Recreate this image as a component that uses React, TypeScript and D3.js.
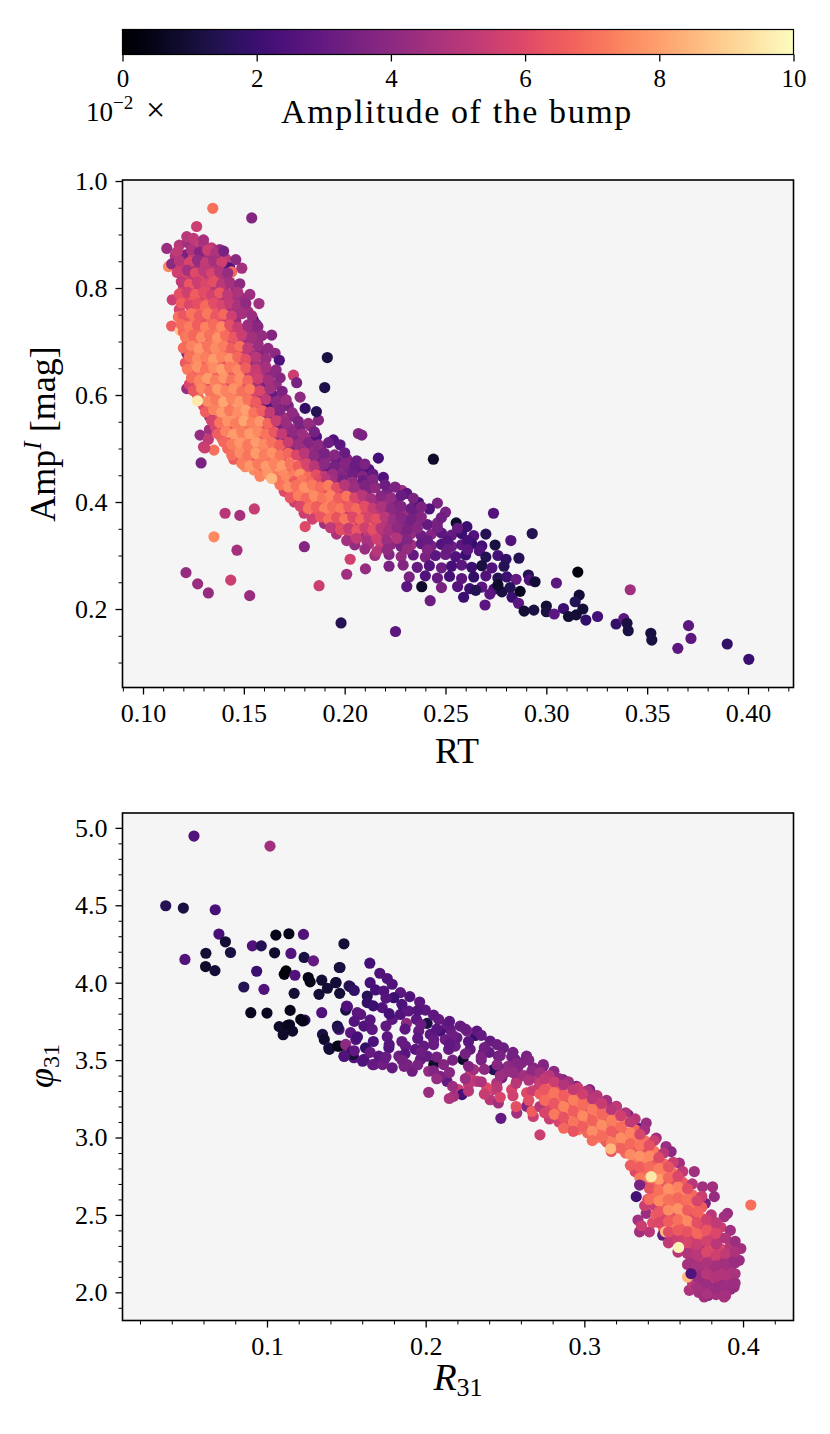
import * as d3 from "d3";
import { useEffect, useRef } from "react";

// [x, y, bump amplitude in units of 1e-2]
type Pt = [number, number, number];

const FONT = "'Liberation Serif', 'DejaVu Serif', serif";

// ---------- colorbar ----------
const cbTicks = [0, 2, 4, 6, 8, 10];

// ---------- top panel: RT vs Amp^I ----------
const topHead: Pt[] = [
  [0.118, 0.88, 5], [0.122, 0.885, 4.5], [0.126, 0.878, 5.5], [0.13, 0.882, 4.8], [0.134, 0.875, 5.2], [0.138, 0.872, 4.2],
  [0.1118, 0.874, 4.3], [0.1217, 0.896, 5], [0.1266, 0.915, 5.5], [0.1346, 0.949, 7], [0.1539, 0.931, 3.8], [0.125, 0.893, 5.2], [0.13, 0.89, 4.6],
  [0.116, 0.86, 4.8], [0.121, 0.862, 3.5], [0.125, 0.858, 5.5], [0.129, 0.861, 5], [0.133, 0.857, 4.5], [0.137, 0.86, 4], [0.141, 0.855, 5.2], [0.1365, 0.845, 2.5],
  [0.1126, 0.84, 7.5], [0.1142, 0.845, 4], [0.119, 0.84, 5.5], [0.123, 0.842, 5], [0.127, 0.838, 4.5], [0.131, 0.84, 5.8], [0.135, 0.836, 5], [0.139, 0.84, 4.5], [0.143, 0.838, 2.5], [0.144, 0.83, 6.8], [0.149, 0.837, 4.5],
  [0.121, 0.82, 5.8], [0.125, 0.822, 5.2], [0.129, 0.818, 6], [0.133, 0.821, 5], [0.137, 0.818, 5.5], [0.141, 0.82, 4.8], [0.1455, 0.801, 4.5],
  [0.12, 0.8, 5.5], [0.124, 0.802, 6], [0.128, 0.798, 5.5], [0.132, 0.801, 6.2], [0.136, 0.797, 5], [0.14, 0.8, 4.5], [0.146, 0.79, 4.2],
  [0.1145, 0.778, 5.5], [0.121, 0.78, 6], [0.125, 0.782, 6.5], [0.129, 0.778, 5.8], [0.133, 0.781, 6.3], [0.137, 0.777, 5.5], [0.141, 0.78, 4.8], [0.145, 0.776, 4.5], [0.15, 0.78, 4.3], [0.1575, 0.771, 4.5],
  [0.118, 0.76, 5.8], [0.124, 0.762, 6.3], [0.128, 0.758, 6.8], [0.132, 0.761, 6], [0.136, 0.757, 6.5], [0.14, 0.76, 5.5], [0.144, 0.758, 4.6], [0.148, 0.762, 4.2], [0.152, 0.756, 4.5],
  [0.1175, 0.746, 7], [0.1142, 0.729, 6.5], [0.122, 0.74, 6.5], [0.126, 0.742, 7], [0.13, 0.738, 6.2], [0.134, 0.741, 6.8], [0.138, 0.737, 6], [0.142, 0.74, 5.5], [0.146, 0.738, 4.3], [0.1547, 0.74, 1.5], [0.156, 0.733, 3.5],
  [0.1184, 0.721, 8.8], [0.12, 0.718, 6.8], [0.125, 0.722, 6.2], [0.129, 0.718, 7], [0.133, 0.721, 6.5], [0.137, 0.717, 7.2], [0.141, 0.72, 6.3], [0.145, 0.718, 5.8], [0.15, 0.722, 4.5], [0.155, 0.716, 4.2], [0.1638, 0.712, 3.8],
  [0.122, 0.7, 6.5], [0.127, 0.702, 7], [0.131, 0.698, 6.3], [0.135, 0.701, 7.3], [0.139, 0.697, 6.8], [0.143, 0.7, 6], [0.147, 0.698, 5.2], [0.152, 0.702, 4.5], [0.157, 0.696, 3.8],
];

// in-between points of the dense upper cloud
const topHeadFill: Pt[] = [
  [0.117, 0.868, 5.2], [0.124, 0.872, 4.8], [0.128, 0.867, 3.8], [0.132, 0.871, 5.5], [0.136, 0.866, 4.8], [0.14, 0.869, 3.5],
  [0.118, 0.851, 5], [0.123, 0.848, 5.8], [0.127, 0.852, 4.2], [0.131, 0.847, 5.3], [0.135, 0.851, 4.6], [0.139, 0.848, 5.6], [0.146, 0.853, 4],
  [0.117, 0.829, 5.6], [0.122, 0.833, 4.6], [0.126, 0.828, 6], [0.13, 0.832, 5.2], [0.134, 0.827, 5.8], [0.138, 0.831, 4.9], [0.142, 0.828, 4.2],
  [0.119, 0.812, 5.2], [0.123, 0.807, 6.4], [0.127, 0.811, 5.5], [0.131, 0.808, 5.9], [0.135, 0.812, 6.2], [0.139, 0.807, 5.1], [0.143, 0.811, 4.6], [0.148, 0.808, 4],
  [0.118, 0.789, 6.2], [0.122, 0.792, 5.6], [0.126, 0.788, 6.6], [0.13, 0.792, 6.1], [0.134, 0.787, 5.7], [0.138, 0.791, 6.4], [0.142, 0.788, 5.2], [0.147, 0.792, 4.8], [0.153, 0.788, 4.4],
  [0.119, 0.772, 6.6], [0.123, 0.768, 5.9], [0.127, 0.771, 6.2], [0.131, 0.767, 6.9], [0.135, 0.772, 6.1], [0.139, 0.768, 5.8], [0.143, 0.771, 5.3], [0.147, 0.767, 4.7], [0.151, 0.771, 4.1],
  [0.12, 0.749, 6.4], [0.124, 0.752, 7.1], [0.128, 0.748, 6.5], [0.132, 0.752, 7.2], [0.136, 0.747, 6.4], [0.14, 0.751, 6.8], [0.144, 0.748, 5.6], [0.149, 0.752, 4.6], [0.154, 0.748, 4.3],
  [0.119, 0.732, 6.9], [0.123, 0.728, 7.3], [0.127, 0.731, 6.6], [0.131, 0.727, 7.4], [0.135, 0.732, 6.9], [0.139, 0.728, 7.5], [0.143, 0.731, 6.2], [0.147, 0.727, 5.4], [0.152, 0.731, 4.4], [0.157, 0.728, 3.9],
  [0.121, 0.709, 7.2], [0.125, 0.712, 6.8], [0.129, 0.708, 7.6], [0.133, 0.712, 7], [0.137, 0.707, 7.7], [0.141, 0.711, 6.9], [0.145, 0.708, 6.4], [0.149, 0.712, 5.5], [0.154, 0.708, 4.6], [0.159, 0.711, 4.2],
];

const topBody: Pt[] = [
  [0.1217, 0.678, 4], [0.124, 0.68, 6.8], [0.128, 0.682, 7.5], [0.132, 0.678, 6.8], [0.136, 0.681, 7.2], [0.14, 0.677, 6.5], [0.144, 0.68, 7], [0.148, 0.682, 5.5], [0.153, 0.678, 4.5], [0.158, 0.68, 3.8], [0.1655, 0.678, 4],
  [0.121, 0.66, 6.5], [0.126, 0.662, 7.2], [0.13, 0.658, 6.7], [0.134, 0.661, 7.5], [0.138, 0.657, 7], [0.142, 0.66, 6.3], [0.146, 0.662, 7.2], [0.15, 0.658, 5.8], [0.155, 0.661, 4.5], [0.16, 0.657, 4.5], [0.1676, 0.665, 2.5],
  [0.125, 0.64, 6.5], [0.129, 0.642, 7], [0.133, 0.638, 7.8], [0.137, 0.641, 6.8], [0.141, 0.637, 7.5], [0.145, 0.64, 6.5], [0.149, 0.642, 7], [0.153, 0.638, 5.5], [0.158, 0.641, 4.8], [0.163, 0.637, 4], [0.1746, 0.637, 5.5],
  [0.1217, 0.612, 4.3], [0.123, 0.62, 5.8], [0.128, 0.622, 7.2], [0.132, 0.618, 6.5], [0.136, 0.621, 7.6], [0.14, 0.617, 7], [0.144, 0.62, 6.2], [0.148, 0.622, 7.5], [0.152, 0.618, 6], [0.156, 0.621, 4.5], [0.161, 0.617, 3.5], [0.166, 0.62, 4.2], [0.1762, 0.623, 3.5],
  [0.127, 0.6, 6.5], [0.135, 0.602, 7.2], [0.139, 0.598, 7.8], [0.143, 0.601, 6.8], [0.147, 0.597, 7.3], [0.151, 0.6, 6.5], [0.155, 0.602, 5.8], [0.159, 0.598, 4.5], [0.164, 0.601, 3], [0.169, 0.597, 4], [0.1779, 0.596, 4],
  [0.13, 0.58, 6], [0.134, 0.582, 7], [0.138, 0.578, 7.5], [0.142, 0.581, 6.5], [0.146, 0.577, 8], [0.15, 0.58, 7], [0.154, 0.582, 6.2], [0.158, 0.578, 5], [0.162, 0.581, 2.5], [0.167, 0.577, 4], [0.172, 0.58, 3.5], [0.1804, 0.575, 1.8],
  [0.133, 0.56, 4.2], [0.137, 0.562, 6.5], [0.141, 0.558, 7.2], [0.145, 0.561, 7.8], [0.149, 0.557, 6.8], [0.153, 0.56, 7.5], [0.157, 0.562, 6], [0.161, 0.558, 5], [0.165, 0.561, 3], [0.17, 0.557, 4.5], [0.175, 0.56, 3.8], [0.187, 0.553, 3.8],
  [0.1329, 0.535, 4.5], [0.136, 0.54, 6], [0.14, 0.542, 7], [0.144, 0.538, 6.5], [0.148, 0.541, 7.8], [0.152, 0.537, 7], [0.156, 0.54, 7.5], [0.16, 0.542, 6.2], [0.164, 0.538, 5], [0.168, 0.541, 3.5], [0.173, 0.537, 4.2], [0.178, 0.54, 3.5], [0.183, 0.542, 4],
  [0.1283, 0.525, 4.2], [0.139, 0.52, 6.5], [0.1432, 0.512, 6.5], [0.147, 0.518, 6.6], [0.151, 0.521, 7.6], [0.155, 0.517, 7], [0.159, 0.52, 6.5], [0.163, 0.522, 5.8], [0.167, 0.518, 4.5], [0.171, 0.521, 3], [0.176, 0.517, 3.8], [0.181, 0.52, 4.5], [0.186, 0.522, 2.5], [0.1944, 0.516, 2.5], [0.2068, 0.528, 3.8], [0.2085, 0.525, 3.6],
  [0.13, 0.503, 5.2], [0.1352, 0.497, 7], [0.142, 0.5, 6.8], [0.146, 0.502, 7.5], [0.15, 0.498, 6.8], [0.154, 0.501, 7.6], [0.158, 0.497, 7.2], [0.162, 0.5, 7], [0.166, 0.502, 6], [0.17, 0.498, 5.2], [0.174, 0.501, 4], [0.178, 0.497, 3.5], [0.183, 0.5, 4.2], [0.188, 0.502, 3.5], [0.1977, 0.507, 2.8],
  [0.1324, 0.517, 5.3], [0.1306, 0.501, 5.5], [0.1332, 0.566, 4], [0.1366, 0.53, 5.5], [0.1435, 0.511, 6.5],
  [0.145, 0.48, 6.5], [0.15, 0.482, 7.2], [0.154, 0.478, 6.5], [0.158, 0.481, 7.8], [0.162, 0.477, 7], [0.166, 0.48, 7.5], [0.17, 0.482, 6.5], [0.178, 0.481, 5.5], [0.182, 0.477, 4.5], [0.186, 0.48, 3.5], [0.191, 0.482, 4], [0.196, 0.478, 3], [0.201, 0.481, 3.8], [0.206, 0.477, 3.2], [0.2167, 0.482, 2.2],
  [0.155, 0.46, 7.5], [0.16, 0.462, 6.8], [0.164, 0.458, 7.3], [0.168, 0.461, 7.8], [0.172, 0.457, 6.8], [0.176, 0.46, 7.2], [0.18, 0.462, 6], [0.184, 0.458, 5.5], [0.188, 0.461, 4.2], [0.192, 0.457, 3], [0.197, 0.46, 4], [0.202, 0.462, 3.5], [0.207, 0.458, 3], [0.212, 0.461, 2.5],
  [0.1507, 0.466, 7.5], [0.174, 0.478, 8.8],
];

const topBodyFill: Pt[] = [
  [0.12, 0.688, 6.9], [0.124, 0.692, 7.4], [0.128, 0.687, 7.8], [0.132, 0.691, 7.1], [0.136, 0.688, 7.6], [0.14, 0.692, 7.3], [0.144, 0.687, 6.6], [0.148, 0.691, 7], [0.152, 0.688, 5.3], [0.157, 0.692, 4.4], [0.162, 0.687, 4.1],
  [0.123, 0.672, 7], [0.127, 0.668, 7.6], [0.131, 0.671, 7.3], [0.135, 0.667, 7.9], [0.139, 0.672, 7.4], [0.143, 0.668, 7.7], [0.147, 0.671, 6.8], [0.151, 0.667, 6.2], [0.156, 0.671, 5], [0.161, 0.668, 4.3],
  [0.122, 0.648, 7.2], [0.127, 0.652, 7.7], [0.131, 0.647, 7.1], [0.135, 0.651, 7.6], [0.139, 0.648, 8], [0.143, 0.652, 7.2], [0.147, 0.647, 7.5], [0.151, 0.651, 6.6], [0.156, 0.648, 5.4], [0.161, 0.652, 4.6], [0.166, 0.647, 4],
  [0.124, 0.632, 6.9], [0.128, 0.628, 7.4], [0.132, 0.631, 7.9], [0.136, 0.627, 7.3], [0.14, 0.632, 7.8], [0.144, 0.628, 7.1], [0.148, 0.631, 7.6], [0.152, 0.627, 6.8], [0.157, 0.631, 5.6], [0.162, 0.628, 4.6], [0.168, 0.632, 3.9],
  [0.125, 0.608, 6.4], [0.129, 0.612, 7.5], [0.133, 0.607, 7.1], [0.137, 0.611, 7.9], [0.141, 0.608, 7.4], [0.145, 0.612, 7.7], [0.149, 0.607, 7], [0.153, 0.611, 7.3], [0.158, 0.608, 5.9], [0.163, 0.612, 4.5], [0.169, 0.607, 3.6],
  [0.128, 0.592, 7.1], [0.132, 0.588, 7.6], [0.136, 0.591, 7.2], [0.14, 0.587, 8.1], [0.144, 0.592, 7.4], [0.148, 0.588, 7.8], [0.152, 0.591, 7.1], [0.156, 0.587, 6.5], [0.161, 0.592, 5.2], [0.166, 0.588, 4], [0.171, 0.591, 4.4],
  [0.131, 0.568, 6.6], [0.135, 0.572, 7.4], [0.139, 0.567, 7.9], [0.143, 0.571, 7.2], [0.147, 0.568, 7.6], [0.151, 0.572, 8], [0.155, 0.567, 7.1], [0.159, 0.571, 6.6], [0.163, 0.568, 5.3], [0.168, 0.572, 3.8], [0.174, 0.567, 4.1],
  [0.134, 0.552, 5.8], [0.138, 0.548, 7.1], [0.142, 0.551, 7.7], [0.146, 0.547, 7.3], [0.15, 0.552, 8.1], [0.154, 0.548, 7.4], [0.158, 0.551, 7.8], [0.162, 0.547, 6.8], [0.166, 0.552, 5.5], [0.171, 0.548, 4.3], [0.177, 0.551, 3.6], [0.182, 0.547, 4.2],
  [0.137, 0.528, 6.6], [0.141, 0.532, 7.4], [0.145, 0.527, 7.9], [0.149, 0.531, 7.3], [0.153, 0.528, 7.9], [0.157, 0.532, 7.5], [0.161, 0.527, 7.1], [0.165, 0.531, 6.4], [0.169, 0.528, 5.3], [0.174, 0.532, 4.1], [0.179, 0.527, 4.4], [0.185, 0.531, 3.4],
  [0.14, 0.512, 6.8], [0.144, 0.508, 7.3], [0.148, 0.511, 7.8], [0.152, 0.507, 7.2], [0.156, 0.512, 7.9], [0.16, 0.508, 7.5], [0.164, 0.511, 7], [0.168, 0.507, 6.6], [0.172, 0.512, 5.4], [0.177, 0.508, 4.4], [0.182, 0.511, 3.8], [0.187, 0.507, 4], [0.192, 0.511, 3.2],
  [0.144, 0.488, 7], [0.148, 0.492, 7.6], [0.152, 0.487, 7.1], [0.156, 0.491, 7.9], [0.16, 0.488, 7.3], [0.164, 0.492, 7.7], [0.168, 0.487, 7.1], [0.172, 0.491, 6.8], [0.176, 0.488, 5.9], [0.18, 0.492, 5], [0.185, 0.487, 4], [0.19, 0.491, 3.5], [0.195, 0.488, 3.9], [0.2, 0.492, 3.1],
  [0.149, 0.472, 7.3], [0.153, 0.468, 7.8], [0.157, 0.471, 7.2], [0.161, 0.467, 7.9], [0.165, 0.472, 7.4], [0.169, 0.468, 7.9], [0.173, 0.471, 7.1], [0.177, 0.467, 6.6], [0.181, 0.472, 5.8], [0.185, 0.468, 5], [0.19, 0.471, 4], [0.195, 0.467, 3.4], [0.2, 0.472, 3.8], [0.205, 0.468, 3.1], [0.21, 0.471, 3.6],
  [0.158, 0.448, 7.4], [0.162, 0.452, 7.8], [0.166, 0.447, 7.2], [0.17, 0.451, 7.6], [0.174, 0.448, 7.3], [0.178, 0.452, 7.7], [0.182, 0.447, 6.9], [0.186, 0.451, 6.2], [0.19, 0.448, 5.3], [0.194, 0.452, 4.4], [0.199, 0.447, 3.8], [0.204, 0.451, 3.3], [0.209, 0.448, 3.8], [0.214, 0.452, 3],
];

const topTail: Pt[] = [
  [0.167, 0.44, 7], [0.171, 0.442, 7.5], [0.175, 0.438, 6.5], [0.179, 0.441, 7.2], [0.183, 0.437, 6.8], [0.187, 0.44, 6], [0.191, 0.442, 5], [0.195, 0.438, 4.5], [0.199, 0.441, 3.5], [0.204, 0.437, 4.2], [0.209, 0.44, 3.2], [0.214, 0.442, 3.8], [0.2192, 0.446, 2.5],
  [0.17, 0.42, 6], [0.175, 0.422, 7], [0.179, 0.418, 6.5], [0.183, 0.421, 7.5], [0.187, 0.417, 7], [0.191, 0.42, 6.2], [0.195, 0.422, 6.8], [0.199, 0.418, 5.5], [0.203, 0.421, 4.5], [0.207, 0.417, 5.2], [0.211, 0.42, 3.8], [0.2151, 0.427, 1], [0.221, 0.418, 3.5], [0.2283, 0.422, 4.5], [0.2308, 0.416, 2.8],
  [0.175, 0.4, 5.5], [0.18, 0.402, 6.8], [0.184, 0.398, 7.2], [0.188, 0.401, 6.5], [0.192, 0.397, 7.5], [0.196, 0.4, 6.8], [0.2, 0.402, 6.2], [0.204, 0.398, 7], [0.208, 0.401, 5.5], [0.212, 0.397, 5], [0.216, 0.4, 4.2], [0.22, 0.402, 4.5], [0.225, 0.398, 3.5], [0.2366, 0.399, 2.2], [0.246, 0.398, 3.5],
  [0.1799, 0.379, 5.5], [0.186, 0.38, 6.5], [0.19, 0.382, 6], [0.194, 0.378, 7], [0.198, 0.381, 6.5], [0.202, 0.377, 5.5], [0.206, 0.38, 6.8], [0.21, 0.382, 5.8], [0.214, 0.378, 6.5], [0.218, 0.381, 5], [0.222, 0.377, 4.3], [0.226, 0.38, 3.8], [0.23, 0.382, 4.5], [0.235, 0.378, 3.3], [0.242, 0.387, 2.5], [0.2738, 0.379, 2.5], [0.25, 0.381, 3.5],
  [0.1804, 0.354, 6], [0.19, 0.36, 4.5], [0.195, 0.362, 6], [0.2, 0.358, 5.5], [0.204, 0.361, 6.5], [0.208, 0.357, 5], [0.212, 0.36, 6.8], [0.216, 0.362, 5.5], [0.22, 0.358, 4.8], [0.224, 0.361, 4.5], [0.228, 0.357, 4], [0.232, 0.36, 3.5], [0.236, 0.362, 4], [0.241, 0.358, 3], [0.246, 0.361, 3.5], [0.2553, 0.361, 0.8], [0.2606, 0.354, 2],
  [0.196, 0.34, 4.8], [0.202, 0.342, 5.8], [0.207, 0.338, 4.5], [0.212, 0.341, 5.2], [0.216, 0.337, 6], [0.22, 0.34, 4.5], [0.225, 0.342, 5.5], [0.229, 0.338, 3.8], [0.233, 0.341, 4.2], [0.238, 0.337, 3.2], [0.243, 0.34, 3.8], [0.248, 0.342, 2.8], [0.253, 0.338, 3], [0.258, 0.341, 2], [0.264, 0.337, 2.5], [0.27, 0.34, 1.5], [0.293, 0.341, 1.5],
  [0.18, 0.3165, 3.8], [0.205, 0.32, 4.2], [0.212, 0.322, 4.8], [0.218, 0.318, 5.5], [0.223, 0.321, 4], [0.228, 0.317, 3.5], [0.233, 0.32, 4.5], [0.238, 0.322, 3], [0.243, 0.318, 3.5], [0.248, 0.321, 2.5], [0.253, 0.317, 3.2], [0.258, 0.32, 2.8], [0.263, 0.322, 1.8], [0.2746, 0.3196, 1.2], [0.2824, 0.328, 2.5], [0.268, 0.318, 2.2],
  [0.2027, 0.293, 5.6], [0.215, 0.3, 4.5], [0.222, 0.302, 3.8], [0.228, 0.298, 4.2], [0.234, 0.301, 3], [0.24, 0.297, 3.6], [0.245, 0.3, 2.8], [0.25, 0.302, 3.2], [0.255, 0.298, 2.5], [0.26, 0.301, 2], [0.2668, 0.309, 2.5], [0.27, 0.297, 1.5], [0.276, 0.3, 2.2], [0.28, 0.293, 1.8], [0.2864, 0.295, 1.5],
  [0.2103, 0.275, 4.2], [0.222, 0.28, 3.5], [0.229, 0.282, 3.8], [0.236, 0.278, 3], [0.242, 0.281, 2.5], [0.248, 0.277, 3.2], [0.253, 0.28, 2.2], [0.258, 0.282, 2.8], [0.263, 0.278, 2], [0.268, 0.281, 1.2], [0.273, 0.277, 2.5], [0.279, 0.28, 1.5], [0.2911, 0.2636, 1.5],
  [0.201, 0.265, 4.5], [0.232, 0.26, 3.5], [0.24, 0.262, 2.5], [0.246, 0.258, 3], [0.252, 0.261, 2.2], [0.258, 0.257, 2.8], [0.264, 0.26, 1.8], [0.27, 0.262, 2.5], [0.276, 0.258, 1.5], [0.2804, 0.26, 2], [0.285, 0.2555, 3], [0.2916, 0.254, 2.5], [0.2944, 0.251, 1],
  [0.2382, 0.2417, 0.8], [0.2308, 0.242, 2.8], [0.248, 0.24, 3.5], [0.256, 0.242, 2.6], [0.262, 0.238, 2], [0.268, 0.241, 2.8], [0.274, 0.237, 2.2], [0.278, 0.232, 1.2],
  [0.265, 0.235, 1.5], [0.272, 0.228, 2.8], [0.276, 0.245, 0.8], [0.282, 0.24, 1.5], [0.283, 0.222, 2], [0.287, 0.233, 0.6],
  [0.305, 0.2486, 2.8], [0.3156, 0.269, 0.3], [0.3163, 0.226, 1],
  [0.2424, 0.2155, 3.2], [0.259, 0.222, 2], [0.2696, 0.2075, 2.8], [0.2862, 0.2107, 2.8], [0.289, 0.196, 1], [0.2938, 0.198, 1.2], [0.3, 0.2056, 1], [0.3, 0.195, 1.2], [0.3039, 0.1907, 2.8], [0.3085, 0.201, 2], [0.311, 0.186, 1], [0.3148, 0.189, 1], [0.3143, 0.2136, 1.5], [0.3181, 0.2, 1], [0.3196, 0.1794, 1.8], [0.3254, 0.186, 2.2],
  [0.3346, 0.172, 1.8], [0.3384, 0.182, 2.8], [0.34, 0.1733, 1.2], [0.3406, 0.1594, 1.2], [0.3518, 0.1546, 1.2], [0.3523, 0.142, 1.2], [0.3705, 0.169, 2.8], [0.3717, 0.145, 2.8], [0.3652, 0.1265, 2.8], [0.3897, 0.1346, 1.8], [0.4004, 0.106, 2], [0.3416, 0.236, 4.5],
];

const topTailFill: Pt[] = [
  [0.168, 0.432, 7.1], [0.172, 0.428, 7.6], [0.176, 0.431, 7], [0.18, 0.427, 7.7], [0.184, 0.432, 7.2], [0.188, 0.428, 6.9], [0.192, 0.431, 7.3], [0.196, 0.427, 6.1], [0.2, 0.432, 5], [0.205, 0.428, 4.4], [0.21, 0.431, 3.6], [0.215, 0.427, 4.1], [0.22, 0.432, 3.2], [0.225, 0.428, 3.6],
  [0.173, 0.408, 6.4], [0.177, 0.412, 7.3], [0.181, 0.407, 6.8], [0.185, 0.411, 7.6], [0.189, 0.408, 7.1], [0.193, 0.412, 7.4], [0.197, 0.407, 6.6], [0.201, 0.411, 7.1], [0.205, 0.408, 5.9], [0.209, 0.412, 5.1], [0.213, 0.407, 4.6], [0.218, 0.411, 3.9], [0.223, 0.408, 4.2], [0.228, 0.412, 3.1], [0.234, 0.407, 3.5],
  [0.178, 0.392, 5.9], [0.182, 0.388, 7.1], [0.186, 0.391, 6.6], [0.19, 0.387, 7.4], [0.194, 0.392, 6.9], [0.198, 0.388, 7.2], [0.202, 0.391, 6.5], [0.206, 0.387, 6.9], [0.21, 0.392, 6.1], [0.214, 0.388, 5.4], [0.218, 0.391, 4.8], [0.223, 0.387, 4], [0.228, 0.392, 3.7], [0.233, 0.388, 3.2], [0.238, 0.391, 3.6],
  [0.184, 0.368, 5.6], [0.188, 0.372, 6.4], [0.192, 0.367, 7], [0.196, 0.371, 6.3], [0.2, 0.368, 7.1], [0.204, 0.372, 6], [0.208, 0.367, 6.7], [0.212, 0.371, 5.8], [0.216, 0.368, 6.2], [0.22, 0.372, 5.1], [0.224, 0.367, 4.4], [0.228, 0.371, 3.9], [0.233, 0.368, 3.4], [0.238, 0.372, 3.8], [0.248, 0.371, 3.3],
  [0.193, 0.352, 5.2], [0.198, 0.348, 6.1], [0.202, 0.351, 5.4], [0.206, 0.347, 6.4], [0.21, 0.352, 5.6], [0.214, 0.348, 6.2], [0.218, 0.351, 5], [0.222, 0.347, 4.6], [0.226, 0.352, 4.1], [0.231, 0.348, 3.6], [0.236, 0.351, 3.9], [0.246, 0.352, 3.4], [0.256, 0.351, 3],
  [0.201, 0.328, 4.6], [0.206, 0.332, 5.3], [0.211, 0.327, 4.7], [0.216, 0.331, 5.6], [0.221, 0.328, 4.4], [0.226, 0.332, 4.9], [0.231, 0.327, 3.7], [0.241, 0.328, 3.1], [0.251, 0.327, 2.6], [0.261, 0.328, 2.2],
  [0.21, 0.312, 4.3], [0.216, 0.308, 5], [0.221, 0.311, 4.1], [0.231, 0.312, 4.2], [0.241, 0.311, 3.7], [0.251, 0.312, 3.1], [0.261, 0.311, 2.8],
];

const topStray: Pt[] = [
  [0.1213, 0.268, 4.2], [0.1271, 0.247, 4.3], [0.1324, 0.23, 4.2], [0.1435, 0.254, 5.5], [0.1529, 0.225, 4.3],
  [0.1352, 0.335, 7.5], [0.1466, 0.31, 4.6], [0.1407, 0.379, 5], [0.148, 0.375, 4.6], [0.1552, 0.387, 5.4],
  [0.1288, 0.473, 3.5], [0.1873, 0.2436, 5.5], [0.1982, 0.174, 1.5], [0.2252, 0.158, 2.8], [0.244, 0.48, 0.8],
  [0.1914, 0.67, 1.2], [0.1901, 0.614, 1.3], [0.186, 0.569, 1.5],
  [0.127, 0.589, 9.5], [0.1638, 0.444, 8.5],
];

// ---------- bottom panel: R31 vs phi31 ----------
const bottomHead: Pt[] = [
  [0.054, 4.947, 2.5], [0.1019, 4.882, 4.5], [0.0362, 4.497, 1.5], [0.0473, 4.482, 1.2], [0.0674, 4.471, 2.3],
  [0.0483, 4.15, 2.5], [0.0615, 4.19, 1], [0.0613, 4.104, 0.8], [0.0672, 4.078, 1], [0.0697, 4.314, 2.3], [0.0738, 4.264, 1], [0.077, 4.195, 1.2],
  [0.0908, 4.238, 2.5], [0.0964, 4.238, 1.5], [0.0935, 4.074, 2], [0.0854, 3.972, 1.5], [0.0981, 3.957, 2.5], [0.0898, 3.806, 0.6], [0.1, 3.804, 0.6],
  [0.1056, 4.307, 0.5], [0.1138, 4.316, 0.5], [0.123, 4.312, 2.5], [0.1048, 4.193, 0.8], [0.1151, 4.189, 2.5], [0.1234, 4.163, 1.2], [0.1293, 4.141, 3],
  [0.1485, 4.251, 1], [0.1456, 4.098, 1], [0.1109, 4.054, 0.2], [0.112, 4.076, 0.2], [0.1176, 4.048, 2.5], [0.126, 4.033, 0.5], [0.1272, 4.005, 0.5],
  [0.1171, 3.931, 1], [0.1345, 4.016, 1], [0.1381, 3.964, 1], [0.1328, 3.925, 1], [0.1435, 4.001, 1], [0.1458, 3.931, 1], [0.1523, 3.975, 1.2],
  [0.1345, 3.806, 2.5], [0.1507, 3.845, 2.5], [0.1496, 3.823, 1.2], [0.1146, 3.821, 0.5], [0.1213, 3.763, 0.5], [0.1239, 3.758, 1.5],
  [0.1077, 3.716, 0.8], [0.1142, 3.728, 0.8], [0.1102, 3.664, 0.8], [0.1161, 3.687, 0.8], [0.113, 3.725, 0.6], [0.1225, 3.753, 0.5],
  [0.135, 3.666, 1.2], [0.1361, 3.633, 0.8], [0.1389, 3.579, 1.5], [0.1393, 3.569, 1], [0.1444, 3.719, 1], [0.1454, 3.698, 2.5], [0.1446, 3.709, 1.5],
  [0.1496, 3.59, 3.8], [0.1485, 3.525, 1.5], [0.1548, 3.515, 2.5], [0.1569, 3.806, 2.8], [0.1456, 3.59, 0.5],
];

const bottomBody: Pt[] = [
  [0.146, 4.098, 1.2], [0.1648, 4.126, 2.2], [0.1711, 4.061, 2.5], [0.1758, 4.027, 2.5], [0.1789, 3.99, 2.5], [0.1433, 4.0, 1], [0.1517, 3.979, 1.5],
  [0.1632, 3.914, 1.5], [0.1684, 3.953, 2.2], [0.1736, 3.946, 2.5], [0.1841, 3.936, 2.8], [0.19, 3.91, 2.5], [0.1962, 3.875, 2.8], [0.1998, 3.823, 2.8],
  [0.1502, 3.849, 2.5], [0.159, 3.795, 2.8], [0.1632, 3.871, 1.8], [0.1799, 3.903, 2], [0.1726, 3.839, 2.5], [0.1789, 3.763, 2.8], [0.1841, 3.795, 2.5],
  [0.1893, 3.817, 2.8], [0.1942, 3.763, 2.8], [0.1879, 3.737, 4], [0.2009, 3.737, 1.2], [0.2082, 3.763, 3], [0.2155, 3.698, 3], [0.2218, 3.72, 3],
  [0.1611, 3.72, 2.5], [0.1663, 3.698, 2.8], [0.1758, 3.651, 2.8], [0.1956, 3.687, 3], [0.2029, 3.666, 2.8], [0.2092, 3.687, 2.2], [0.2312, 3.659, 1.8],
  [0.2323, 3.687, 2.8], [0.2406, 3.623, 3], [0.249, 3.579, 3.2], [0.2542, 3.521, 3.5], [0.2605, 3.482, 3.8], [0.2678, 3.45, 3.8], [0.2741, 3.46, 3.5], [0.2808, 3.428, 4],
  [0.1444, 3.59, 0.5], [0.1496, 3.601, 4], [0.1538, 3.557, 2], [0.1621, 3.579, 1.8], [0.1611, 3.504, 2.5], [0.1674, 3.471, 3], [0.1736, 3.493, 3.2],
  [0.1789, 3.45, 3], [0.1768, 3.579, 2.5], [0.1883, 3.471, 3.5], [0.1915, 3.428, 3.3], [0.1967, 3.504, 3], [0.2009, 3.525, 3], [0.2051, 3.471, 0.8],
  [0.2019, 3.428, 4.2], [0.2113, 3.471, 3.8], [0.2134, 3.363, 3], [0.2092, 3.395, 3.5], [0.2019, 3.292, 4.3], [0.2207, 3.309, 5.5], [0.2229, 3.277, 2.2],
  [0.2176, 3.266, 4.5], [0.2235, 3.504, 0.8], [0.2186, 3.59, 3.2], [0.2145, 3.569, 3], [0.228, 3.569, 3], [0.2364, 3.547, 3.2], [0.228, 3.406, 5.5],
  [0.2323, 3.363, 5], [0.227, 3.342, 5.2], [0.2427, 3.439, 1.5], [0.2458, 3.45, 1.8], [0.248, 3.385, 3.5], [0.2427, 3.309, 5.5], [0.2385, 3.32, 6],
  [0.2406, 3.244, 5], [0.2458, 3.223, 4.5], [0.2542, 3.309, 5.8], [0.2574, 3.363, 4.5], [0.2636, 3.288, 6], [0.2647, 3.234, 6.5], [0.2699, 3.309, 5.5],
  [0.2741, 3.352, 2.8], [0.2772, 3.266, 6.8], [0.2825, 3.223, 6], [0.2866, 3.309, 4.5], [0.2678, 3.136, 5.5], [0.2636, 3.201, 3.8], [0.2574, 3.158, 4.5],
  [0.294, 3.104, 7], [0.2992, 3.136, 6.5], [0.2908, 3.201, 5.5], [0.295, 3.266, 5], [0.3034, 3.309, 3.8], [0.3076, 3.223, 5.2], [0.3118, 3.136, 3.8],
  [0.3034, 3.093, 7], [0.3097, 3.039, 7.5], [0.3128, 2.985, 7.2], [0.2134, 3.73, 3], [0.2261, 3.687, 3.5], [0.2197, 3.644, 3], [0.2124, 3.633, 3.2],
  [0.2051, 3.633, 3], [0.1988, 3.59, 3], [0.1935, 3.569, 2.8], [0.1873, 3.59, 3], [0.1831, 3.525, 3.3], [0.1705, 3.525, 2.8], [0.156, 3.633, 2.5],
  [0.1527, 3.677, 2.8], [0.2563, 3.504, 3.2], [0.2636, 3.525, 3.5], [0.2458, 3.525, 3.3], [0.2689, 3.385, 4], [0.2866, 3.374, 3.8], [0.295, 3.331, 3.5],
  [0.3055, 3.266, 4.2], [0.3139, 3.223, 4.5], [0.2302, 3.439, 4.5], [0.2574, 3.417, 4.3], [0.2448, 3.352, 4.8], [0.1603, 3.493, 2.5], [0.1666, 3.471, 3],
  [0.1729, 3.471, 3.3], [0.1864, 3.46, 3.5], [0.2149, 3.252, 4.8], [0.154, 3.536, 1], [0.1488, 3.525, 2.5],
  [0.235, 3.5, 3.5], [0.24, 3.55, 3], [0.252, 3.46, 4], [0.258, 3.45, 3.8], [0.262, 3.4, 4.5], [0.25, 3.42, 4.2], [0.27, 3.4, 5],
];

const bottomBodyFill: Pt[] = [
  [0.155, 3.95, 1.8], [0.155, 3.75, 2.6], [0.157, 3.65, 2.2], [0.155, 3.56, 2.9],
  [0.165, 4.0, 2.3], [0.167, 3.85, 2], [0.165, 3.76, 2.7], [0.167, 3.62, 2.4], [0.165, 3.55, 3],
  [0.175, 3.9, 2.6], [0.177, 3.8, 2.2], [0.175, 3.72, 2.9], [0.177, 3.6, 2.6], [0.175, 3.52, 3.1],
  [0.185, 3.86, 2.4], [0.187, 3.7, 2.8], [0.185, 3.62, 3], [0.187, 3.54, 2.7], [0.185, 3.5, 3.4],
  [0.195, 3.82, 2.6], [0.197, 3.73, 3.1], [0.195, 3.64, 2.8], [0.197, 3.55, 3.2], [0.195, 3.47, 3.5],
  [0.205, 3.79, 2.9], [0.207, 3.7, 2.7], [0.205, 3.6, 3.1], [0.207, 3.52, 3.4], [0.205, 3.43, 3.7], [0.207, 3.38, 4.2],
  [0.215, 3.75, 2.8], [0.217, 3.66, 3.2], [0.215, 3.6, 2.9], [0.217, 3.5, 3.5], [0.215, 3.42, 3.9], [0.217, 3.33, 4.4],
  [0.225, 3.7, 3.1], [0.227, 3.62, 2.8], [0.225, 3.54, 3.4], [0.227, 3.46, 3.8], [0.225, 3.38, 4.4], [0.227, 3.3, 5],
  [0.235, 3.66, 3], [0.237, 3.58, 3.3], [0.235, 3.52, 3.6], [0.237, 3.44, 4], [0.235, 3.36, 4.8], [0.237, 3.28, 5.4],
  [0.245, 3.6, 3.2], [0.247, 3.53, 3.5], [0.245, 3.47, 3.9], [0.247, 3.4, 4.3], [0.245, 3.32, 5.1], [0.247, 3.26, 5.8],
  [0.255, 3.55, 3.4], [0.257, 3.48, 3.8], [0.255, 3.42, 4.2], [0.257, 3.35, 5], [0.255, 3.27, 5.6], [0.257, 3.2, 6.2],
  [0.265, 3.5, 3.7], [0.267, 3.43, 4.1], [0.265, 3.37, 4.8], [0.267, 3.3, 5.5], [0.265, 3.24, 6.1], [0.267, 3.17, 6.6],
];

const bottomBend: Pt[] = [
  [0.2741, 3.471, 3.8], [0.2804, 3.417, 4], [0.2741, 3.352, 2.5], [0.2866, 3.331, 4.5], [0.2929, 3.298, 3.8], [0.3013, 3.298, 3.8], [0.3076, 3.266, 4],
  [0.3139, 3.223, 4.2], [0.316, 3.169, 2.2], [0.3202, 3.201, 4], [0.3275, 3.147, 3.2], [0.3338, 3.061, 3], [0.339, 3.093, 4.3], [0.3453, 2.996, 4.5],
  [0.3515, 2.942, 4.3], [0.3547, 2.909, 4], [0.3599, 2.834, 4.5], [0.3693, 2.78, 4.5], [0.3745, 2.682, 4.5], [0.3808, 2.682, 4.5], [0.3819, 2.618, 4.2],
  [0.3762, 2.575, 3.5], [0.3902, 2.51, 4.3], [0.3881, 2.488, 4.5], [0.3986, 2.283, 4.5], [0.3976, 2.207, 4.3], [0.3933, 2.121, 4.5], [0.3944, 2.034, 4.3],
  [0.3881, 1.97, 4.5], [0.3755, 1.97, 4.5], [0.3661, 2.013, 4.8], [0.3682, 2.056, 5.2], [0.3724, 2.024, 3.5],
  [0.272, 3.42, 4.5], [0.272, 3.35, 5.5], [0.272, 3.28, 6.5], [0.272, 3.2, 5],
  [0.278, 3.4, 5], [0.278, 3.33, 6.8], [0.278, 3.26, 7], [0.278, 3.18, 6], [0.278, 3.12, 5.5],
  [0.284, 3.38, 4.2], [0.284, 3.31, 6.2], [0.284, 3.24, 7.2], [0.284, 3.17, 6.5], [0.284, 3.1, 5.8],
  [0.29, 3.36, 4.5], [0.29, 3.29, 7], [0.29, 3.22, 6.2], [0.29, 3.15, 7.5], [0.29, 3.08, 6],
  [0.296, 3.32, 5.5], [0.296, 3.25, 6.8], [0.296, 3.18, 7.3], [0.296, 3.11, 6.5], [0.296, 3.05, 7],
  [0.302, 3.3, 4.8], [0.302, 3.23, 7], [0.302, 3.16, 6.2], [0.302, 3.1, 7.4], [0.302, 3.03, 6.8],
  [0.308, 3.27, 5], [0.308, 3.2, 6.5], [0.308, 3.13, 7.5], [0.308, 3.07, 6.8], [0.308, 3.0, 7.2],
  [0.314, 3.24, 4.5], [0.314, 3.17, 7], [0.314, 3.1, 6.4], [0.314, 3.04, 7.6], [0.314, 2.97, 6.5],
  [0.32, 3.2, 5.2], [0.32, 3.14, 6.8], [0.32, 3.07, 7.4], [0.32, 3.01, 6.2], [0.32, 2.94, 7],
  [0.326, 3.16, 4.8], [0.326, 3.1, 7.2], [0.326, 3.03, 6.5], [0.326, 2.97, 7.5], [0.326, 2.9, 6.8],
  [0.332, 3.12, 5], [0.332, 3.05, 6.8], [0.332, 2.98, 7.3], [0.332, 2.92, 6.5], [0.332, 2.85, 7.2], [0.332, 2.78, 6],
  [0.338, 3.05, 4.5], [0.338, 2.98, 7], [0.338, 2.92, 6.2], [0.338, 2.85, 7.5], [0.338, 2.78, 6.8], [0.338, 2.71, 5.5],
  [0.344, 2.98, 5.5], [0.344, 2.91, 7.2], [0.344, 2.84, 6.5], [0.344, 2.77, 7.8], [0.344, 2.7, 6.8], [0.344, 2.63, 7], [0.344, 2.56, 5.5],
  [0.35, 2.9, 5], [0.35, 2.83, 6.8], [0.35, 2.76, 7.5], [0.35, 2.69, 6.4], [0.35, 2.62, 7.6], [0.35, 2.55, 6.8], [0.35, 2.48, 5.8], [0.35, 2.41, 6.5],
  [0.356, 2.84, 5.5], [0.356, 2.77, 7], [0.356, 2.7, 6.2], [0.356, 2.63, 7.5], [0.356, 2.56, 7], [0.356, 2.49, 6.2], [0.356, 2.42, 7.2], [0.356, 2.35, 5.5],
  [0.362, 2.78, 5.2], [0.362, 2.71, 6.5], [0.362, 2.64, 7.5], [0.362, 2.57, 6.8], [0.362, 2.5, 7.8], [0.362, 2.43, 6.5], [0.362, 2.36, 5.8], [0.362, 2.29, 5],
  [0.368, 2.7, 5], [0.368, 2.63, 6.8], [0.368, 2.56, 7.2], [0.368, 2.49, 6], [0.368, 2.42, 7], [0.368, 2.35, 5.5], [0.368, 2.28, 5.2], [0.368, 2.21, 4.5],
  [0.374, 2.62, 5.5], [0.374, 2.55, 6.5], [0.374, 2.48, 6.8], [0.374, 2.41, 5.8], [0.374, 2.34, 6.5], [0.374, 2.27, 4.8], [0.374, 2.2, 5.5], [0.374, 2.13, 4.5], [0.374, 2.06, 4.2],
  [0.38, 2.5, 5], [0.38, 2.43, 6], [0.38, 2.36, 5.5], [0.38, 2.29, 6.3], [0.38, 2.22, 5], [0.38, 2.15, 4.5], [0.38, 2.08, 5.2], [0.38, 2.01, 4.5],
  [0.386, 2.42, 5.5], [0.386, 2.35, 4.8], [0.386, 2.28, 5.8], [0.386, 2.21, 4.5], [0.386, 2.14, 5], [0.386, 2.07, 4.3], [0.386, 2.0, 4.8],
  [0.392, 2.4, 4.5], [0.392, 2.3, 5], [0.392, 2.22, 4.3], [0.392, 2.15, 4.8], [0.392, 2.08, 4.5], [0.392, 2.02, 4.2],
  [0.372, 2.0, 4.5], [0.378, 1.98, 4.2], [0.383, 1.985, 4.6], [0.37, 2.03, 5],
  [0.3348, 2.391, 4.5], [0.341, 2.391, 5], [0.3338, 2.467, 4.5], [0.339, 2.51, 4.3], [0.3494, 2.369, 3], [0.336, 2.43, 5.5],
  [0.343, 2.45, 6], [0.338, 2.56, 5.5], [0.345, 2.5, 6.5], [0.34, 2.6, 6], [0.3511, 2.391, 8.5],
];

const bottomBendFill: Pt[] = [
  [0.275, 3.38, 5.2], [0.275, 3.31, 6.4], [0.275, 3.24, 6.9], [0.275, 3.16, 5.8],
  [0.281, 3.36, 5.5], [0.281, 3.29, 7.1], [0.281, 3.22, 6.4], [0.281, 3.15, 7.2],
  [0.287, 3.34, 4.9], [0.287, 3.27, 6.6], [0.287, 3.2, 7.4], [0.287, 3.13, 6.3], [0.287, 3.06, 6.8],
  [0.293, 3.31, 5.3], [0.293, 3.24, 7.3], [0.293, 3.17, 6.6], [0.293, 3.1, 7.1], [0.293, 3.04, 6.3],
  [0.299, 3.28, 5.6], [0.299, 3.21, 6.9], [0.299, 3.14, 7.5], [0.299, 3.07, 6.6],
  [0.305, 3.25, 5.1], [0.305, 3.18, 7.2], [0.305, 3.11, 6.7], [0.305, 3.04, 7.6], [0.305, 2.98, 6.9],
  [0.311, 3.22, 5.4], [0.311, 3.15, 6.8], [0.311, 3.08, 7.6], [0.311, 3.01, 6.9],
  [0.317, 3.18, 5], [0.317, 3.11, 7.3], [0.317, 3.04, 6.6], [0.317, 2.97, 7.3], [0.317, 2.91, 6.4],
  [0.323, 3.14, 5.6], [0.323, 3.07, 6.9], [0.323, 3.0, 7.6], [0.323, 2.93, 6.7],
  [0.329, 3.1, 5.2], [0.329, 3.03, 7.4], [0.329, 2.96, 6.8], [0.329, 2.89, 7.6], [0.329, 2.82, 6.6],
  [0.335, 3.02, 5.8], [0.335, 2.95, 7.1], [0.335, 2.88, 7.7], [0.335, 2.81, 6.6], [0.335, 2.74, 7.2],
  [0.341, 2.95, 6.2], [0.341, 2.88, 7.5], [0.341, 2.81, 6.9], [0.341, 2.74, 7.4], [0.341, 2.67, 6.3], [0.341, 2.6, 6.9],
  [0.347, 2.87, 6], [0.347, 2.8, 7.3], [0.347, 2.73, 7.9], [0.347, 2.66, 7], [0.347, 2.59, 7.5], [0.347, 2.52, 6.4], [0.347, 2.45, 5.9],
  [0.353, 2.81, 6.3], [0.353, 2.74, 6.8], [0.353, 2.67, 7.7], [0.353, 2.6, 7], [0.353, 2.53, 7.6], [0.353, 2.46, 6.6], [0.353, 2.39, 6.1], [0.353, 2.32, 5.3],
  [0.359, 2.75, 5.9], [0.359, 2.68, 7.4], [0.359, 2.61, 6.8], [0.359, 2.54, 7.7], [0.359, 2.47, 7], [0.359, 2.4, 6.5], [0.359, 2.33, 5.6], [0.359, 2.26, 5.1],
  [0.365, 2.67, 6.1], [0.365, 2.6, 7], [0.365, 2.53, 6.6], [0.365, 2.46, 7.5], [0.365, 2.39, 6.3], [0.365, 2.32, 5.8], [0.365, 2.25, 4.9], [0.365, 2.18, 4.6],
  [0.371, 2.59, 5.8], [0.371, 2.52, 6.7], [0.371, 2.45, 6.2], [0.371, 2.38, 6.8], [0.371, 2.31, 5.5], [0.371, 2.24, 5.1], [0.371, 2.17, 4.7], [0.371, 2.1, 4.4], [0.371, 2.03, 4.6],
  [0.377, 2.47, 5.6], [0.377, 2.4, 6.4], [0.377, 2.33, 5.7], [0.377, 2.26, 5.9], [0.377, 2.19, 4.8], [0.377, 2.12, 5], [0.377, 2.05, 4.4], [0.377, 1.99, 4.7],
  [0.383, 2.45, 5.2], [0.383, 2.38, 5.9], [0.383, 2.31, 5.1], [0.383, 2.24, 5.6], [0.383, 2.17, 4.6], [0.383, 2.1, 4.9], [0.383, 2.03, 4.3],
  [0.389, 2.35, 4.9], [0.389, 2.25, 5.3], [0.389, 2.18, 4.5], [0.389, 2.11, 4.9], [0.389, 2.04, 4.4], [0.389, 1.98, 4.6],
  [0.395, 2.33, 4.4], [0.395, 2.26, 4.8], [0.395, 2.19, 4.3], [0.395, 2.12, 4.7], [0.395, 2.06, 4.4],
];

const bottomStray: Pt[] = [
  [0.2474, 3.124, 3], [0.272, 3.017, 5.5], [0.3348, 2.693, 3.5], [0.3327, 2.618, 2.2], [0.4049, 2.564, 7],
  [0.3594, 2.29, 9.8], [0.365, 2.099, 8.5], [0.3672, 2.121, 2.5], [0.3166, 2.927, 8.5], [0.3421, 2.747, 9.5],
];

const topMajorX = [0.1, 0.15, 0.2, 0.25, 0.3, 0.35, 0.4];
const topMajorY = [0.2, 0.4, 0.6, 0.8, 1.0];
const bottomMajorX = [0.1, 0.2, 0.3, 0.4];
const bottomMajorY = [2.0, 2.5, 3.0, 3.5, 4.0, 4.5, 5.0];

const LEFT = 122.5;
const RIGHT = 793.5;

interface PanelConfig {
  id: string;
  top: number;
  bottom: number;
  xDomain: [number, number];
  yDomain: [number, number];
  xMajor: number[];
  xMinor: number[];
  yMajor: number[];
  yMinor: number[];
  xFmt: (v: number) => string;
  yFmt: (v: number) => string;
  points: Pt[];
}

function styleAxis(g: any, fontSize: number) {
  g.select(".domain").remove();
  g.selectAll(".tick line").attr("stroke", "#000").attr("stroke-width", 1.3);
  g.selectAll(".tick text")
    .attr("fill", "#000")
    .attr("font-family", FONT)
    .attr("font-size", fontSize);
}

function drawPanel(svg: any, color: (v: number) => string, p: PanelConfig) {
  const x = d3.scaleLinear().domain(p.xDomain).range([LEFT, RIGHT]);
  const y = d3.scaleLinear().domain(p.yDomain).range([p.bottom, p.top]);

  svg
    .append("clipPath")
    .attr("id", `clip-${p.id}`)
    .append("rect")
    .attr("x", LEFT)
    .attr("y", p.top)
    .attr("width", RIGHT - LEFT)
    .attr("height", p.bottom - p.top);

  svg
    .append("rect")
    .attr("x", LEFT)
    .attr("y", p.top)
    .attr("width", RIGHT - LEFT)
    .attr("height", p.bottom - p.top)
    .attr("fill", "#f5f5f5");

  svg
    .append("g")
    .attr("clip-path", `url(#clip-${p.id})`)
    .selectAll("circle")
    .data(p.points)
    .join("circle")
    .attr("cx", (d: Pt) => x(d[0]))
    .attr("cy", (d: Pt) => y(d[1]))
    .attr("r", 5.6)
    .attr("fill", (d: Pt) => color(d[2]));

  // minor ticks
  svg
    .append("g")
    .attr("transform", `translate(0,${p.bottom})`)
    .call(d3.axisBottom(x).tickValues(p.xMinor).tickSize(4).tickFormat(() => ""))
    .call((g: any) => styleAxis(g, 26))
    .selectAll(".tick line")
    .attr("stroke-width", 1);
  svg
    .append("g")
    .attr("transform", `translate(${LEFT},0)`)
    .call(d3.axisLeft(y).tickValues(p.yMinor).tickSize(4).tickFormat(() => ""))
    .call((g: any) => styleAxis(g, 26))
    .selectAll(".tick line")
    .attr("stroke-width", 1);

  // major ticks
  svg
    .append("g")
    .attr("transform", `translate(0,${p.bottom})`)
    .call(d3.axisBottom(x).tickValues(p.xMajor).tickSize(7).tickPadding(9).tickFormat(p.xFmt as any))
    .call((g: any) => styleAxis(g, 26));
  svg
    .append("g")
    .attr("transform", `translate(${LEFT},0)`)
    .call(d3.axisLeft(y).tickValues(p.yMajor).tickSize(7).tickPadding(8).tickFormat(p.yFmt as any))
    .call((g: any) => styleAxis(g, 26));

  // spines
  svg
    .append("rect")
    .attr("x", LEFT)
    .attr("y", p.top)
    .attr("width", RIGHT - LEFT)
    .attr("height", p.bottom - p.top)
    .attr("fill", "none")
    .attr("stroke", "#000")
    .attr("stroke-width", 1.6);
}

export default function App() {
  const svgRef = useRef<SVGSVGElement>(null);

  useEffect(() => {
    if (!svgRef.current) return;
    document.body.style.margin = "0";
    const svg = d3.select(svgRef.current);
    svg.selectAll("*").remove();

    const color = d3.scaleSequential(d3.interpolateMagma).domain([0, 10]);

    // Colorbar
    const cb = d3.scaleLinear().domain([0, 10]).range([LEFT, RIGHT]);
    const grad = svg
      .append("defs")
      .append("linearGradient")
      .attr("id", "magma-grad")
      .attr("x1", "0%")
      .attr("x2", "100%");
    d3.range(0, 41).forEach((i) => {
      grad
        .append("stop")
        .attr("offset", `${(i / 40) * 100}%`)
        .attr("stop-color", d3.interpolateMagma(i / 40));
    });
    svg
      .append("rect")
      .attr("x", LEFT)
      .attr("y", 29.5)
      .attr("width", RIGHT - LEFT)
      .attr("height", 25)
      .attr("fill", "url(#magma-grad)")
      .attr("stroke", "#000")
      .attr("stroke-width", 1.2);
    svg
      .append("g")
      .attr("transform", "translate(0,54.5)")
      .call(d3.axisBottom(cb).tickValues(cbTicks).tickSize(7).tickPadding(8).tickFormat(d3.format("d") as any))
      .call((g: any) => styleAxis(g, 25));

    const scaleNote = svg
      .append("text")
      .attr("x", 86)
      .attr("y", 121)
      .attr("font-family", FONT)
      .attr("font-size", 27)
      .attr("fill", "#000");
    scaleNote.append("tspan").text("10");
    scaleNote.append("tspan").attr("font-size", 19).attr("dy", -12).text("−2");
    svg
      .append("text")
      .attr("x", 146)
      .attr("y", 121)
      .attr("font-family", FONT)
      .attr("font-size", 34)
      .text("×");

    svg
      .append("text")
      .attr("x", 457)
      .attr("y", 123)
      .attr("text-anchor", "middle")
      .attr("font-family", FONT)
      .attr("font-size", 34)
      .attr("letter-spacing", 1.6)
      .text("Amplitude of the bump");

    // Top panel
    drawPanel(svg, color, {
      id: "top",
      top: 180,
      bottom: 687.5,
      xDomain: [0.08983, 0.42256],
      yDomain: [0.0533, 1.0019],
      xMajor: topMajorX,
      xMinor: d3.range(9, 43).filter((i) => i % 5 !== 0).map((i) => i / 100),
      yMajor: topMajorY,
      yMinor: d3.range(2, 21).filter((i) => i % 4 !== 0).map((i) => i * 0.05),
      xFmt: d3.format(".2f"),
      yFmt: d3.format(".1f"),
      points: [...topHead, ...topHeadFill, ...topBody, ...topBodyFill, ...topTail, ...topTailFill, ...topStray],
    });

    svg
      .append("text")
      .attr("x", 457)
      .attr("y", 763)
      .attr("text-anchor", "middle")
      .attr("font-family", FONT)
      .attr("font-size", 36)
      .text("RT");

    const ampLabel = svg
      .append("text")
      .attr("transform", "translate(55,434) rotate(-90)")
      .attr("text-anchor", "middle")
      .attr("font-family", FONT)
      .attr("font-size", 36);
    ampLabel.append("tspan").text("Amp");
    ampLabel.append("tspan").attr("font-size", 25).attr("font-style", "italic").attr("dy", -14).text("I");
    ampLabel.append("tspan").attr("dy", 14).text(" [mag]");

    // Bottom panel
    drawPanel(svg, color, {
      id: "bottom",
      top: 813,
      bottom: 1320.5,
      xDomain: [0.00895, 0.4318],
      yDomain: [1.818, 5.096],
      xMajor: bottomMajorX,
      xMinor: d3.range(1, 22).filter((i) => i % 5 !== 0).map((i) => i * 0.02),
      yMajor: bottomMajorY,
      yMinor: d3.range(19, 51).filter((i) => i % 5 !== 0).map((i) => i / 10),
      xFmt: d3.format(".1f"),
      yFmt: d3.format(".1f"),
      points: [...bottomHead, ...bottomBody, ...bottomBodyFill, ...bottomBend, ...bottomBendFill, ...bottomStray],
    });

    const rLabel = svg
      .append("text")
      .attr("x", 458)
      .attr("y", 1390)
      .attr("text-anchor", "middle")
      .attr("font-family", FONT)
      .attr("font-size", 38);
    rLabel.append("tspan").attr("font-style", "italic").text("R");
    rLabel.append("tspan").attr("font-size", 26).attr("dy", 6).text("31");

    const phiLabel = svg
      .append("text")
      .attr("transform", "translate(53,1066) rotate(-90)")
      .attr("text-anchor", "middle")
      .attr("font-family", FONT)
      .attr("font-size", 36);
    phiLabel.append("tspan").attr("font-style", "italic").text("φ");
    phiLabel.append("tspan").attr("font-size", 24).attr("dy", 6).text("31");
  }, []);

  return <svg ref={svgRef} width={830} height={1434} style={{ display: "block" }} />;
}
